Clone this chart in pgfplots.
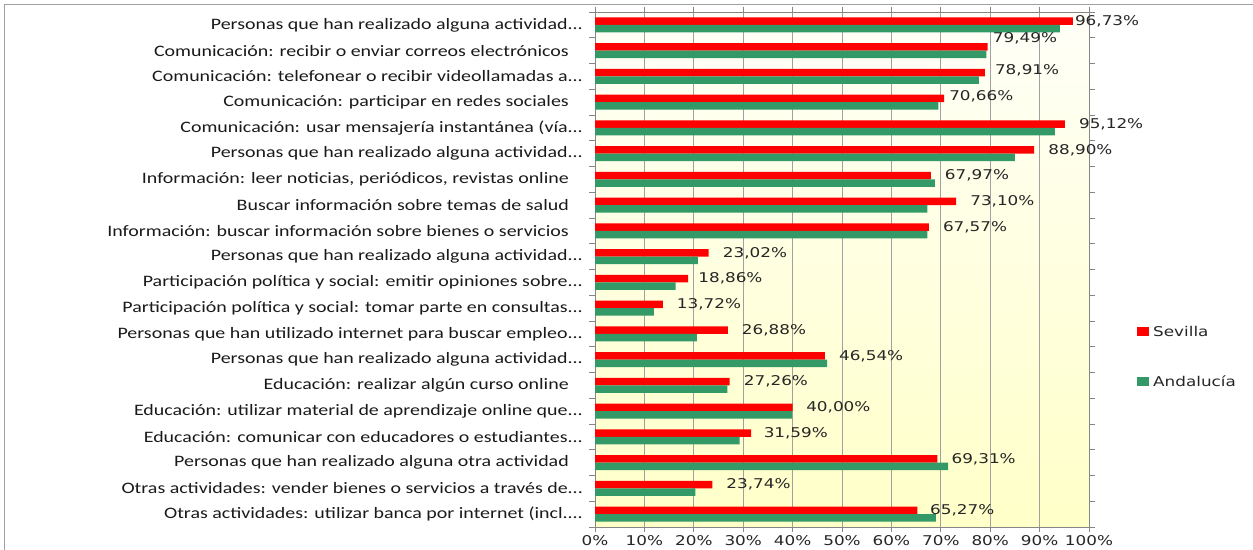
\documentclass[border=0pt]{standalone}
\usepackage{pgfplots}
\pgfplotsset{compat=1.18}
\usepackage{pgfplotstable}
\usepackage{fontspec}
\setmainfont{Carlito}
\newfontfamily\catfont[FakeStretch=1.25]{Carlito}
\newfontfamily\numfont[FakeStretch=1.25]{DejaVu Sans}
\definecolor{sev}{HTML}{FF0000}
\definecolor{anda}{HTML}{339966}
\definecolor{gridc}{HTML}{A0A0A0}
\definecolor{axc}{HTML}{868686}
\definecolor{ytop}{HTML}{FFFFF8}
\definecolor{ymid}{HTML}{FFFFE0}
\definecolor{ybg}{HTML}{FFFFC8}
\definecolor{txt}{HTML}{1A1A1A}
\definecolor{ntxt}{HTML}{262626}
\def\el{...}

\pgfplotstableread{
y  v      lab    dx    dy
19 96.73  96,73  2     0
18 79.49  79,49  5     8.5
17 78.91  78,91  10    2
16 70.66  70,66  5     2.5
15 95.12  95,12  14    0
14 88.90  88,90  14    0
13 67.97  67,97  14    0
12 73.10  73,10  14    0
11 67.57  67,57  14    0
10 23.02  23,02  14    0
9  18.86  18,86  10    0
8  13.72  13,72  14    0
7  26.88  26,88  14    0
6  46.54  46,54  14    0
5  27.26  27,26  14    0
4  40.00  40,00  13.5  0
3  31.59  31,59  12.5  0
2  69.31  69,31  14    0
1  23.74  23,74  14    0
0  65.27  65,27  12.5  0
}\sevilla

\pgfplotstableread{
y  v
19 94.1
18 79.2
17 77.7
16 69.5
15 93.1
14 85.0
13 68.8
12 67.3
11 67.3
10 20.8
9  16.3
8  11.9
7  20.6
6  47.0
5  26.8
4  39.9
3  29.3
2  71.5
1  20.3
0  69.0
}\andalucia

\begin{document}
\begin{tikzpicture}
\useasboundingbox (0bp,0bp) rectangle (1253bp,550bp);
\draw[gridc, line width=1bp] (4.5bp,0bp) -- (4.5bp,545.5bp) -- (1253bp,545.5bp);
\begin{axis}[
  at={(595bp,23bp)}, anchor=south west,
  scale only axis, width=494bp, height=515bp,
  xbar, bar width=7.6bp,
  xmin=0, xmax=100, ymin=-0.5, ymax=19.5,
  enlargelimits=false,
  axis background/.style={shade, top color=ytop, middle color=ymid, bottom color=ybg},
  axis line style={draw=axc, line width=0.8bp},
  xmajorgrids, major grid style={draw=gridc, line width=0.8bp},
  tick align=outside,
  xtick={0,10,...,100},
  xticklabels={0\%,10\%,20\%,30\%,40\%,50\%,60\%,70\%,80\%,90\%,100\%},
  xtick style={draw=axc, line width=0.8bp},
  major tick length=5bp,
  ytick={0,...,19},
  ytick style={draw=none},
  minor ytick={-0.5,0.5,...,19.5},
  minor y tick style={draw=axc, line width=0.8bp},
  minor tick length=6bp,
  xticklabel style={font=\numfont\fontsize{13.5}{15}\selectfont, text=ntxt},
  yticklabel style={font=\catfont\fontsize{16}{18}\selectfont, text=txt, inner sep=0pt, xshift=-7bp},
  yticklabels={
    {Otras actividades: utilizar banca por internet (incl.\el},
    {Otras actividades: vender bienes o servicios a través de\el},
    {Personas que han realizado alguna otra actividad\hspace*{14bp}},
    {Educación: comunicar con educadores o estudiantes\el},
    {Educación: utilizar material de aprendizaje online que\el},
    {Educación: realizar algún curso online\hspace*{14bp}},
    {Personas que han realizado alguna actividad\el},
    {Personas que han utilizado internet para buscar empleo\el},
    {Participación política y social: tomar parte en consultas\el},
    {Participación política y social: emitir opiniones sobre\el},
    {Personas que han realizado alguna actividad\el},
    {Información: buscar información sobre bienes o servicios\hspace*{14bp}},
    {Buscar información sobre temas de salud\hspace*{14bp}},
    {Información: leer noticias, periódicos, revistas online\hspace*{14bp}},
    {Personas que han realizado alguna actividad\el},
    {Comunicación: usar mensajería instantánea (vía\el},
    {Comunicación: participar en redes sociales\hspace*{14bp}},
    {Comunicación: telefonear o recibir videollamadas a\el},
    {Comunicación: recibir o enviar correos electrónicos\hspace*{14bp}},
    {Personas que han realizado alguna actividad\el}
  },
  legend style={at={(1,0.5)}, anchor=west, xshift=48bp, yshift=-87.5bp,
    draw=none, fill=none, inner sep=0pt, row sep=38bp,
    font=\numfont\fontsize{13.5}{15}\selectfont, text=ntxt,
    nodes={inner sep=0pt}, cells={anchor=west}, column sep=4bp},
  legend image code/.code={\fill[#1, draw=none] (0bp,-4.5bp) rectangle (12bp,4.5bp);},
]
\addplot[fill=sev, draw=none, bar shift=3.8bp,
  point meta=explicit symbolic,
  nodes near coords={\pgfplotspointmeta\%},
  visualization depends on={\thisrow{dx} \as \dx},
  visualization depends on={\thisrow{dy} \as \dy},
  every node near coord/.append style={anchor=west, inner sep=0pt,
     xshift=\dx*1bp, yshift=\dy*1bp,
     font=\numfont\fontsize{13.5}{15}\selectfont, text=ntxt}]
  table[x=v, y=y, meta=lab]{\sevilla};
\addplot[fill=anda, draw=none, bar shift=-3.8bp]
  table[x=v, y=y]{\andalucia};
\legend{Sevilla, Andalucía}
\end{axis}
\end{tikzpicture}
\end{document}
